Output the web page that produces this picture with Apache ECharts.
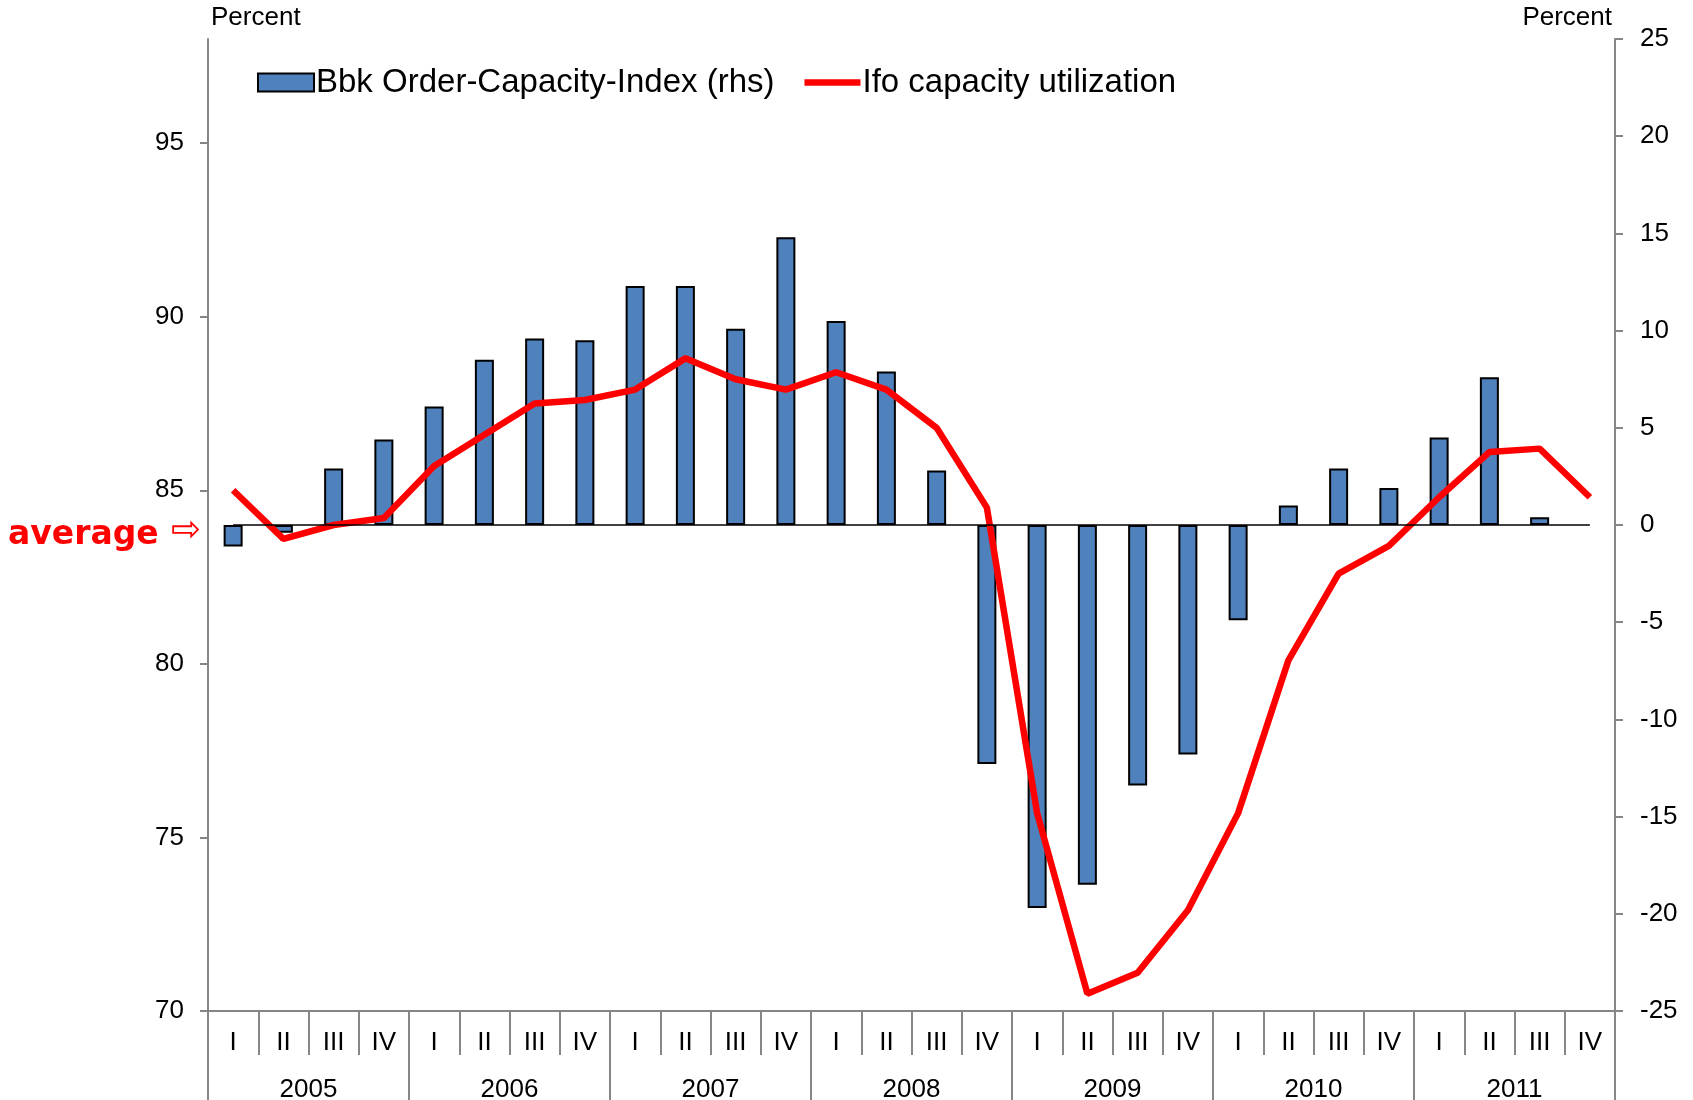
<!DOCTYPE html>
<html>
<head>
<meta charset="utf-8">
<script src="https://cdn.jsdelivr.net/npm/echarts@6/dist/echarts.min.js"></script>
<style>
  html, body { margin: 0; padding: 0; background: #fff; }
  #chart { width: 1693px; height: 1100px; }
</style>
</head>
<body>
<div id="chart"></div>
<script>
// quarter labels and years on the two-level category axis
var quarters = ['I','II','III','IV','I','II','III','IV','I','II','III','IV','I','II','III','IV',
                'I','II','III','IV','I','II','III','IV','I','II','III','IV'];
var years = ['2005','2006','2007','2008','2009','2010','2011'];

// Bbk Order-Capacity-Index, right axis (percent deviation from average)
var bbkIndex = [-1.1, -0.4, 2.9, 4.4,
                6.1, 8.5, 9.6, 9.5,
                12.3, 12.3, 10.1, 14.8,
                10.5, 7.9, 2.8, -12.3,
                -19.7, -18.5, -13.4, -11.8,
                -4.9, 1.0, 2.9, 1.9,
                4.5, 7.6, 0.4, null];

// Ifo capacity utilization, left axis (percent)
var ifoCapacity = [85.0, 83.6, 84.0, 84.2,
                   85.7, 86.6, 87.5, 87.6,
                   87.9, 88.8, 88.2, 87.9,
                   88.4, 87.9, 86.8, 84.5,
                   75.7, 70.5, 71.1, 72.9,
                   75.7, 80.1, 82.6, 83.4,
                   84.8, 86.1, 86.2, 84.8];

var leftTicks = [70, 75, 80, 85, 90, 95];

var font = 'Liberation Sans, Arial, sans-serif';
var grey = '#868686';

var chart = echarts.init(document.getElementById('chart'));
chart.setOption({
  animation: false,
  backgroundColor: '#fff',
  textStyle: { fontFamily: font },
  grid: { left: 208, right: 78, top: 39, bottom: 89, outerBoundsMode: 'none', containLabel: false },
  legend: {
    left: 252,
    top: 61,
    itemWidth: 56,
    itemHeight: 18,
    itemGap: 30,
    textStyle: { fontSize: 33, color: '#000', fontFamily: font, padding: [0, 0, 0, -3] },
    data: [
      { name: 'Bbk Order-Capacity-Index (rhs)', icon: 'rect' },
      { name: 'Ifo capacity utilization', icon: 'path://M0,0 L58,0 L58,6.5 L0,6.5 Z', itemStyle: { color: '#ff0000', borderWidth: 0 } }
    ]
  },
  graphic: [
    {
      type: 'text', left: 8, top: 519,
      style: { text: 'average', fill: '#ff0000', font: 'bold 33px "DejaVu Sans"' }
    },
    {
      type: 'text', left: 171, top: 514,
      style: { text: '⇨', fill: '#ff0000', font: '36px "DejaVu Sans"' }
    }
  ],
  xAxis: [
    {
      type: 'category',
      data: quarters,
      position: 'bottom',
      boundaryGap: true,
      axisLine: { show: true, onZero: false, lineStyle: { color: grey, width: 2 } },
      axisTick: { show: true, interval: 0, length: 44, lineStyle: { color: grey, width: 2 } },
      axisLabel: { interval: 0, fontSize: 26, color: '#000', margin: 19 },
      splitLine: { show: false }
    },
    {
      type: 'category',
      data: years,
      position: 'bottom',
      boundaryGap: true,
      axisLine: { show: false, onZero: false },
      axisTick: { show: true, interval: 0, length: 89, lineStyle: { color: grey, width: 2 } },
      axisLabel: { interval: 0, fontSize: 26, color: '#000', margin: 66 },
      splitLine: { show: false }
    }
  ],
  yAxis: [
    {
      type: 'value',
      position: 'left',
      min: 70,
      max: 98,
      name: 'Percent',
      nameLocation: 'end',
      nameGap: 8,
      nameTextStyle: { fontSize: 26, color: '#000', align: 'left', padding: [0, 0, 0, 3] },
      axisLine: { show: true, lineStyle: { color: grey, width: 2 } },
      axisTick: { show: true, length: 8, customValues: leftTicks, lineStyle: { color: grey, width: 2 } },
      axisLabel: { fontSize: 26, color: '#000', margin: 24, customValues: leftTicks },
      splitLine: { show: false }
    },
    {
      type: 'value',
      position: 'right',
      min: -25,
      max: 25,
      interval: 5,
      name: 'Percent',
      nameLocation: 'end',
      nameGap: 8,
      nameTextStyle: { fontSize: 26, color: '#000', align: 'right', padding: [0, 3, 0, 0] },
      axisLine: { show: true, lineStyle: { color: grey, width: 2 } },
      axisTick: { show: true, length: 8, lineStyle: { color: grey, width: 2 } },
      axisLabel: { fontSize: 26, color: '#000', margin: 25 },
      splitLine: { show: false }
    }
  ],
  series: [
    {
      name: 'Bbk Order-Capacity-Index (rhs)',
      type: 'bar',
      xAxisIndex: 0,
      yAxisIndex: 1,
      data: bbkIndex,
      barWidth: 19,
      itemStyle: { color: '#4F81BD', borderColor: '#000', borderWidth: 2 },
      markLine: {
        silent: true,
        symbol: ['none', 'none'],
        label: { show: false },
        lineStyle: { color: '#000', width: 1.5, type: 'solid' },
        data: [[{ coord: [0, 0] }, { coord: [27, 0] }]]
      }
    },
    {
      name: 'Ifo capacity utilization',
      type: 'line',
      xAxisIndex: 0,
      yAxisIndex: 0,
      data: ifoCapacity,
      symbol: 'none',
      lineStyle: { color: '#ff0000', width: 6.5 },
      itemStyle: { color: '#ff0000' }
    }
  ]
});
</script>
</body>
</html>
